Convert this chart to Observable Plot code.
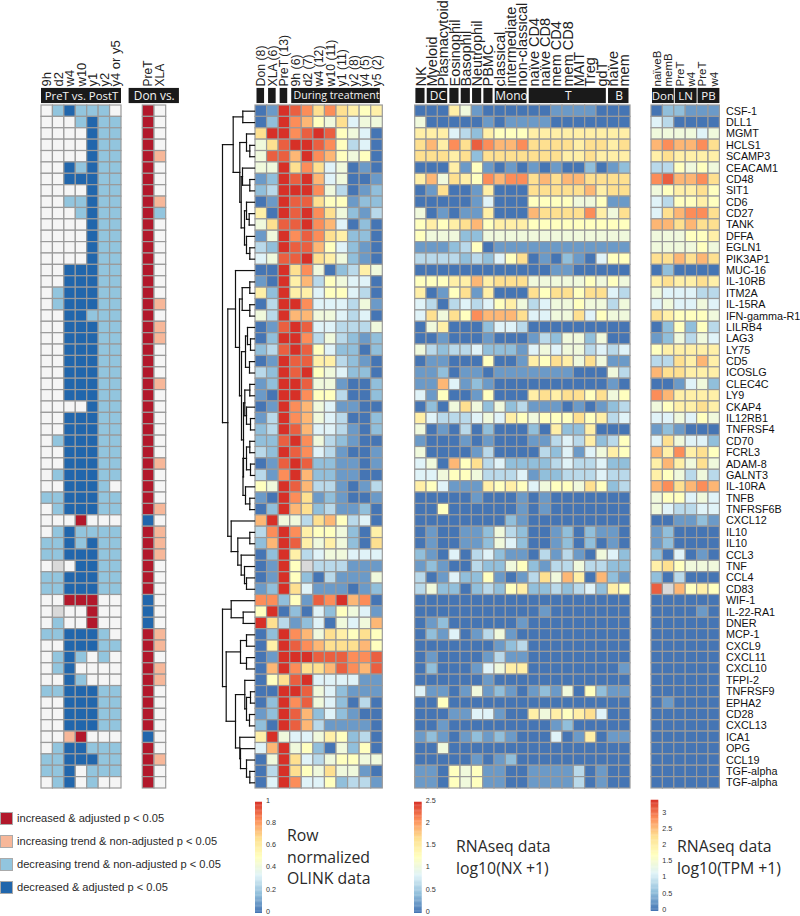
<!DOCTYPE html>
<html><head><meta charset="utf-8">
<script src="https://cdn.jsdelivr.net/npm/d3@7"></script>
<script src="https://cdn.jsdelivr.net/npm/@observablehq/plot@0.6"></script>
<style>
html,body{margin:0;background:#fff}
#chart{position:relative;width:800px;height:916px;overflow:hidden}
#chart svg{position:absolute;left:0;top:0;background:transparent}
.note{position:absolute;font:15.8px/21.5px "Open Sans",sans-serif;color:#2a2a2a;white-space:pre}
.lg{position:absolute;left:17px;font:11.1px/12px "Liberation Sans",sans-serif;color:#2a2a2a;white-space:pre}
.sw{position:absolute;left:0;width:11px;height:11px;border:1px solid #aaa}
</style></head><body><div id="chart"></div>
<script>
const proteins=["CSF-1","DLL1","MGMT","HCLS1","SCAMP3","CEACAM1","CD48","SIT1","CD6","CD27","TANK","DFFA","EGLN1","PIK3AP1","MUC-16","IL-10RB","ITM2A","IL-15RA","IFN-gamma-R1","LILRB4","LAG3","LY75","CD5","ICOSLG","CLEC4C","LY9","CKAP4","IL12RB1","TNFRSF4","CD70","FCRL3","ADAM-8","GALNT3","IL-10RA","TNFB","TNFRSF6B","CXCL12","IL10","IL10","CCL3","TNF","CCL4","CD83","WIF-1","IL-22-RA1","DNER","MCP-1","CXCL9","CXCL11","CXCL10","TFPI-2","TNFRSF9","EPHA2","CD28","CXCL13","ICA1","OPG","CCL19","TGF-alpha","TGF-alpha"];

const pairCols=["9h","d2","w4","w10","y1","y2","y4 or y5"];
const donCols=["PreT","XLA"];
const olinkCols=["Don (8)","XLA (6)","PreT (13)","9h (6)","d2 (7)","w4 (12)","w10 (11)","y1 (11)","y2 (8)","y4 (5)","y5 (2)"];
const nxCols=["NK","Myeloid","Plasmacytoid","Eosinophil","Basophil","Neutrophil","PBMC","classical","intermediate","non-classical","naïve CD4","naïve CD8","mem CD4","mem CD8","MAIT","Treg","gdT","naïve","mem"];
const tpmCols=["naïveB","memB","PreT","w4","PreT","w4"];

// W none, L decreasing trend, B decreased, S increasing trend, R increased, G no data
const pairRows=["WLBLLLW","WWWLBLL","WWWWBLL","WWWWBLL","WWWWBLL","WWBLBLL","WWBBBLL","WWWWBLL","WWLLBLL","WWWLBLL","WWWWBLL","WWWWBLL","WWWWBLL","WWWWBLL","WWBBBLL","WWBBBLL","WLBBBLL","WLBBBLL","WWBBLLL","WWBBBLL","WWBBBLL","WWBBBLL","WWBBBLL","WWBBBLL","WWBBBLL","WWBBBLL","WWWWBLL","WWBBBLL","WWBBBLL","WLBBBLL","WWBBBLL","WWBBBLL","WLBBBLL","WWBBBLW","LLBBBLL","WLBBBLL","WWWRWWW","WLBLLLL","LLBLBLL","LLBBBLL","WGWBBLL","LLBBBLL","LLBBBLL","WWRRRWW","WGWWRWW","WLWWRWW","LLBBBLW","WWBBBLL","WLBLWLW","WLBWWWW","WWBLWWW","LLBBBLL","WWBBBLL","WWBBBLL","WWBBBLL","WWSRWWW","WLBBLLL","LLBBBLL","LLBWLLL","WLBWLWW"];
const donRows=["RW","RW","RW","RW","RS","RW","RW","RW","RS","RL","RW","RW","RW","RW","RW","RW","RW","RS","RW","RS","RS","RW","RW","RW","RS","RW","RW","RW","RW","RW","RW","RS","RW","RW","RW","RS","BW","RS","RS","RS","RW","RW","RW","BW","BW","BW","RS","RS","RW","RS","RS","RW","RW","RW","RW","BW","RW","RS","RW","RW"];

// level 0 to c (hexadecimal, twelfths of the scale); x marks a missing value
const olinkRows=["01cba8a8767","02ca9658455","8ccabcb6540","58bccba6340","5bb9ca96560","55c8a845010","12cbc945001","23ccca53012","01cbb866122","70cbca85213","58bbca94020","15caba87220","32cbb964210","45bbc875210","00c8a502375","10c79365440","72c77466430","03cca444351","53c99554340","01bcb443335","02cca353212","23bcb642202","01cbb773210","32cbc654220","12ccb551002","10cca663002","01ca9541100","13ca9543002","23cb9443102","22bca532100","32cba431001","01bcb221101","31ac9221100","65cb9331013","10ca8121001","02c98231120","9c553896340","3aca7665207","29cb7575208","02c73455444","01c6x333111","01c62031115","12c84111012","aa261bac9a0","6c020426541","c8312405459","02ca9587686","07cba988896","01cccbbbaab","09ca889ba9b","068bc444411","00ccb542111","02cab542030","12cb9242100","20cb9311110","7c544576230","49c56205260","05c84356655","03c86585510","04ca4462331"];
const nxRows=["0007510000001111000","5000001011110000000","7774327666777777777","897a8ba99a888878878","8887828888888778777","0007161010101002012","795876a9aa898998888","0180017000888889788","0000014000666655611","501011700098888a758","6767896777666666666","6555225555555555555","1112360111111111111","3333232468010210466","0000000000001100000","6667797888555556565","7016817000868868843","4303434675345565535","48586a9998445584655","0570002443000000000","0010001000132552500","5323342221454553434","0110006001768758511","1120110111111100053","1194121000000000010","4160016000787886856","0205852523111010123","7433345476566686734","5010302000207227000","1000101000113437236","5000013000032414576","4509683422223433422","4456653334122333433","7641117676456658623","0000010001010000000","0060000001010000000","0000000021000000000","0100112532001202110","0100112542001202010","2104034211031310542","1210032256213353322","3014226101385970921","3522023267223234276","0000000000000000000","0000000000010000000","0120000001000000000","0214013510000000000","0000000123000000000","0100001311000000000","0200014577000000001","0000001000000000000","4110151210121506211","0060000000000000000","0001144100757678400","0010000000001200000","1210121210004017011","0050000000000000000","0000010120000000000","1106561100111130100","1106561100111130100"];
const tpmRows=["022111","430000","555545","9a99a8","787777","336565","ab99a8","567786","436676","489aa8","998988","555667","555565","889898","020000","787787","544433","454454","876665","026263","125354","677777","338797","988777","001452","a97777","567787","445465","121000","485442","97a786","797585","765353","9a89a9","566454","543344","001121","120000","120000","204010","786555","203000","bx9676","000000","000010","000000","000000","000000","000000","000000","000000","000000","010000","000000","000000","000000","000000","000000","000000","000000"];

const pairHeads=[{t:"PreT vs. PostT",from:0,to:7}];
const donHeads=[{t:"Don vs.",from:-1.17,to:3.13}];
const olinkHeads=[{t:"",from:0,to:1},{t:"",from:1,to:2},{t:"",from:2,to:3},{t:"During treatment",from:3,to:11}];
const nxHeads=[{t:"",from:0,to:1},{t:"DC",from:1,to:3},{t:"",from:3,to:4},{t:"",from:4,to:5},{t:"",from:5,to:6},{t:"",from:6,to:7},{t:"Mono",from:7,to:10},{t:"T",from:10,to:17},{t:"B",from:17,to:19}];
const tpmHeads=[{t:"Don",from:0,to:2},{t:"LN",from:2,to:4},{t:"PB",from:4,to:6}];

// merge tree: [height, left, right]; a bare number is a row
const upperTree=[32,[21.3,[11.7,0,1],[14.7,[8,2,[4.7,3,4]],[13.3,[12,5,[4.7,6,7]],[10,[8,8,[5.3,9,10]],[8,11,[4.7,12,13]]]]]],[26.7,[19,14,[15,[12.3,[4.7,15,16],[4.7,17,18]],[13,[9,[7,19,[4,20,21]],[5,22,23]],[11,[9.7,[4.7,24,25],[8,26,[4,27,28]]],[11.5,[8,[4.7,29,30],[4,31,32]],[9,33,[4.7,34,35]]]]]]],[23.3,36,[16.7,[4.7,37,38],[13.3,39,[10,40,[8,41,42]]]]]]];
const lowerTree=[32,[23.3,43,[11.3,44,45]],[28.3,[14,[8,46,47],[8,48,49]],[19,[9.7,50,[8,[4,51,52],[5,53,54]]],[14.7,55,[14,56,[8,57,[4.7,58,59]]]]]]];

const ramp=["#4575b4","#91bfdb","#e0f3f8","#ffffbf","#fee090","#fc8d59","#d73027"];
const sigDomain=["W","L","B","S","R"];
const sigRange=["#f5f5f5","#92c5de","#2166ac","#f7b799","#b2182b"];
const legendRows=[["#b2182b","increased & adjusted p < 0.05",812],["#f7b799","increasing trend & non-adjusted p < 0.05",835],["#92c5de","decreasing trend & non-adjusted p < 0.05",858],["#2166ac","decreased & adjusted p < 0.05",881]];
const notes=[["Row\nnormalized\nOLINK data",287,825],["RNAseq data\nlog10(NX +1)",456,836],["RNAseq data\nlog10(TPM +1)",677,836]];

const W=800,H=916,TOP=105,BOTTOM=788;
const sans='"Liberation Sans",sans-serif', head='"Open Sans",sans-serif', GRID="#9a9a9a", NA="#d9d9d9";
const chart=document.getElementById("chart");
const HEAD_TOP=-1.5, HEAD_BOTTOM=-0.17;

function panel({left,right,cols,rows,heads,fill,color,labelSize,headSize,insetLeft=0.7,insetRight=1.5,rowLabels=false}){
  const data=rows.flatMap((s,row)=>[...s].map((c,col)=>({row,col,c})));
  const marks=[
    Plot.rect(data.filter(d=>d.c!=="x"&&d.c!=="G"),{x1:"col",x2:d=>d.col+1,y1:"row",y2:d=>d.row+1,fill:fill,stroke:GRID,strokeWidth:1.2}),
    Plot.rect(data.filter(d=>d.c==="x"||d.c==="G"),{x1:"col",x2:d=>d.col+1,y1:"row",y2:d=>d.row+1,fill:NA,stroke:GRID,strokeWidth:1.2}),
    Plot.rect(heads,{x1:"from",x2:"to",y1:HEAD_TOP,y2:HEAD_BOTTOM,fill:"#1a1a1a",insetLeft,insetRight}),
    Plot.text(heads,{x:d=>(d.from+d.to)/2,y:(HEAD_TOP+HEAD_BOTTOM)/2,text:"t",fill:"#f4f4f4",fontFamily:head,fontSize:headSize}),
    Plot.axisX(cols.map((_,i)=>i+0.5),{anchor:"top",tickFormat:v=>cols[v-0.5],tickRotate:-90,tickSize:0,tickPadding:19,fontSize:labelSize,fontFamily:sans,label:null,fill:"#222"})
  ];
  if(rowLabels) marks.push(Plot.axisY(rows.map((_,i)=>i+0.5),{anchor:"right",tickFormat:v=>proteins[v-0.5],tickSize:0,tickPadding:6,fontSize:10.8,fontFamily:sans,label:null,fill:"#111"}));
  chart.append(Plot.plot({width:W,height:H,marginLeft:left,marginRight:W-right,marginTop:TOP,marginBottom:H-BOTTOM,
    x:{domain:[0,cols.length],axis:null},y:{domain:[rows.length,0],axis:null},color,marks}));
}
const sigColor={type:"ordinal",domain:sigDomain,range:sigRange};
const rampColor=max=>({type:"linear",domain:ramp.map((_,i)=>i/6*max),range:ramp,clamp:true});
const level=(c,max)=>parseInt(c,16)/12*max;

panel({left:41,right:121,cols:pairCols,rows:pairRows,heads:pairHeads,fill:d=>d.c,color:sigColor,labelSize:13,headSize:11.4,insetLeft:0,insetRight:0});
panel({left:142.3,right:165.7,cols:donCols,rows:donRows,heads:donHeads,fill:d=>d.c,color:sigColor,labelSize:12,headSize:11.9,insetLeft:0,insetRight:0});
panel({left:255,right:382.3,cols:olinkCols,rows:olinkRows,heads:olinkHeads,fill:d=>level(d.c,1),color:rampColor(1),labelSize:12.3,headSize:10.6,insetLeft:1.5,insetRight:2.5});
panel({left:414.7,right:630,cols:nxCols,rows:nxRows,heads:nxHeads,fill:d=>level(d.c,2.5),color:rampColor(2.5),labelSize:14.5,headSize:12});
panel({left:651,right:719.4,cols:tpmCols,rows:tpmRows,heads:tpmHeads,fill:d=>level(d.c,3.43),color:rampColor(3.43),labelSize:11.5,headSize:11.5,insetLeft:1,insetRight:0,rowLabels:true});

// dendrogram
const segs=[];
function walk(n){
  if(typeof n==="number") return {y:n+0.5,h:0};
  const [h,a,b]=n, p=walk(a), q=walk(b);
  segs.push({x1:p.h,y1:p.y,x2:h,y2:p.y},{x1:q.h,y1:q.y,x2:h,y2:q.y},{x1:h,y1:p.y,x2:h,y2:q.y});
  return {y:(p.y+q.y)/2,h};
}
walk(upperTree); walk(lowerTree);
chart.append(Plot.plot({width:W,height:H,marginLeft:220,marginRight:W-254,marginTop:TOP,marginBottom:H-BOTTOM,
  x:{domain:[34,0],axis:null},y:{domain:[60,0],axis:null},
  marks:[Plot.link(segs,{x1:"x1",y1:"y1",x2:"x2",y2:"y2",stroke:"#111",strokeWidth:1.2,strokeLinecap:"square"})]}));

// colour bars
function bar(left,right,top,bottom,max,ticks){
  const steps=d3.range(90).map(i=>i/90*max);
  chart.append(Plot.plot({width:W,height:H,marginLeft:left,marginRight:W-right,marginTop:top,marginBottom:H-bottom,
    x:{domain:[0,1],axis:null},y:{domain:[0,max],axis:null},color:rampColor(max),
    marks:[Plot.rect(steps,{x1:0,x2:1,y1:d=>d,y2:d=>d+max/90+max/400,fill:d=>d}),
      Plot.axisY(ticks,{anchor:"right",tickSize:0,tickPadding:3.5,fontSize:7.2,dy:-2,fontFamily:sans,label:null,fill:"#333",tickFormat:d3.format("~g")})]}));
}
bar(255,262,802,913,1,[0,0.2,0.4,0.6,0.8,1]);
bar(414,421.7,802,913,2.5,[0,0.5,1,1.5,2,2.5]);
bar(650.7,658.3,800,911,3.43,[0,0.5,1,1.5,2,2.5,3]);

// legend and notes
for(const [c,t,y] of legendRows){
  const s=document.createElement("div");s.className="sw";s.style.top=y+"px";s.style.background=c;chart.append(s);
  const l=document.createElement("div");l.className="lg";l.style.top=y+"px";l.textContent=t;chart.append(l);
}
for(const [t,x,y] of notes){
  const n=document.createElement("div");n.className="note";n.style.left=x+"px";n.style.top=y+"px";n.textContent=t;chart.append(n);
}
</script></body></html>
